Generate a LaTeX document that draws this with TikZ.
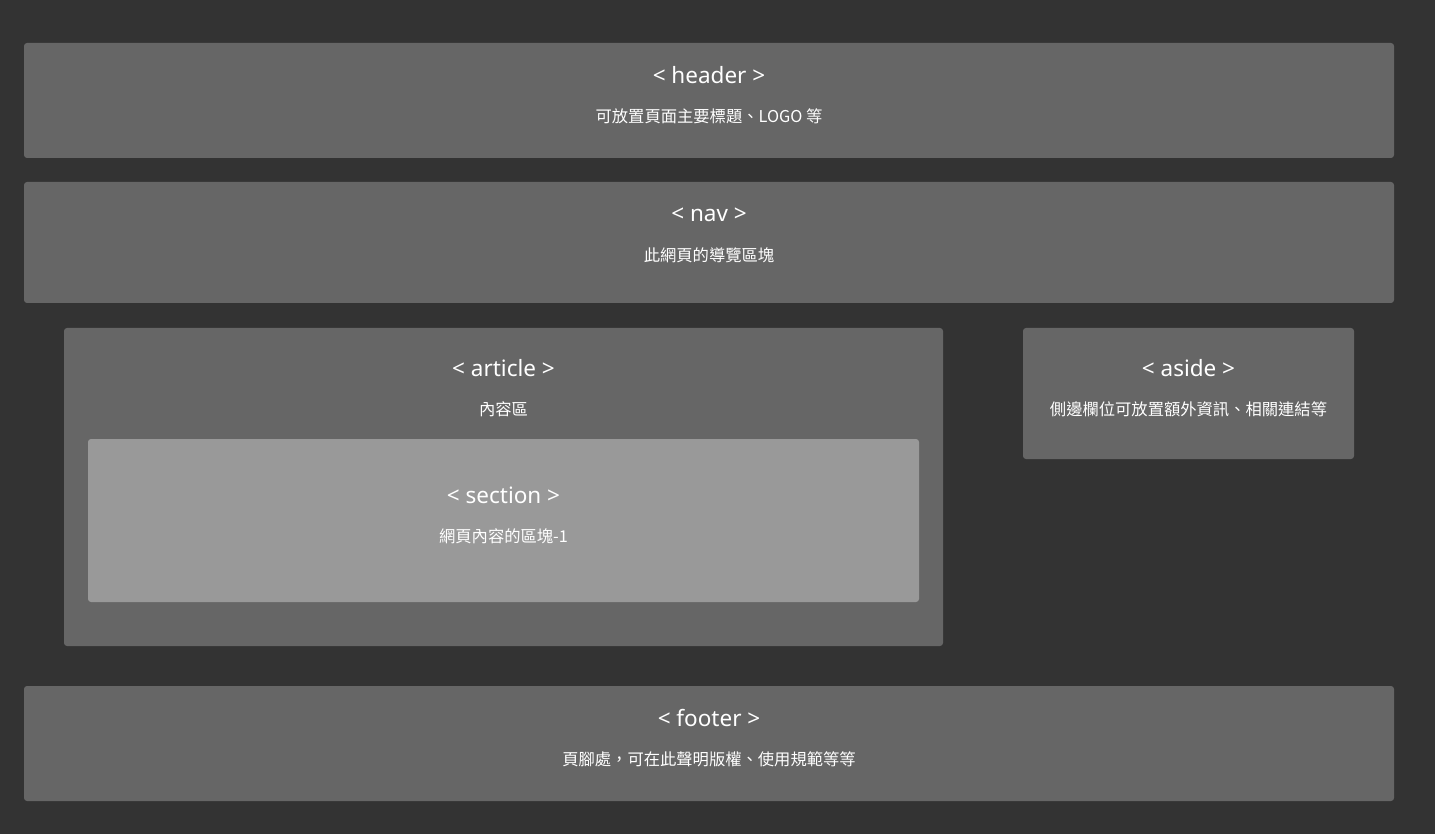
\documentclass[tikz,border=0pt]{standalone}
\usepackage{fontspec}
\setmainfont{Noto Sans CJK TC}
\newfontfamily\latinfont{Noto Sans}
\definecolor{bgc}{HTML}{333333}
\definecolor{boxc}{HTML}{666666}
\definecolor{secc}{HTML}{999999}
\tikzset{
  blk/.style={fill=boxc, draw=none, rounded corners=3pt},
  secblk/.style={fill=secc, draw=none, rounded corners=3pt},
  ttl/.style={text=white, font=\latinfont\fontsize{22.5}{26}\selectfont, inner sep=0pt, anchor=base},
  sub/.style={text=white, font=\fontsize{16.3}{19}\selectfont, inner sep=0pt, anchor=center}
}
\begin{document}
\begin{tikzpicture}[x=1pt,y=-1pt]
\fill[bgc] (0,0) rectangle (1435,834);
\useasboundingbox (0,0) rectangle (1435,834);
\fill[blk] (24,43) rectangle (1394,158);
\fill[blk] (24,182) rectangle (1394,303);
\fill[blk] (64,328) rectangle (943,646);
\fill[blk] (1023,328) rectangle (1354,459);
\fill[secblk] (88,439) rectangle (919,602);
\fill[blk] (24,686) rectangle (1394,801);
\node[ttl] (headerT) at (709,83.3) {< header >};
\node[sub] (headerS) at (709,116.5) {可放置頁面主要標題、LOGO 等};
\node[ttl] (navT) at (709,221.7) {< nav >};
\node[sub] (navS) at (709,255.5) {此網頁的導覽區塊};
\node[ttl] (articleT) at (503.5,376.3) {< article >};
\node[sub] (articleS) at (503.5,409.5) {內容區};
\node[ttl] (asideT) at (1188.5,376.3) {< aside >};
\node[sub] (asideS) at (1188.5,409.5) {側邊欄位可放置額外資訊、相關連結等};
\node[ttl] (sectionT) at (503.5,503.3) {< section >};
\node[sub] (sectionS) at (503.5,536.5) {網頁內容的區塊-1};
\node[ttl] (footerT) at (709,726.3) {< footer >};
\node[sub] (footerS) at (709,759.5) {頁腳處，可在此聲明版權、使用規範等等};
\end{tikzpicture}
\end{document}
